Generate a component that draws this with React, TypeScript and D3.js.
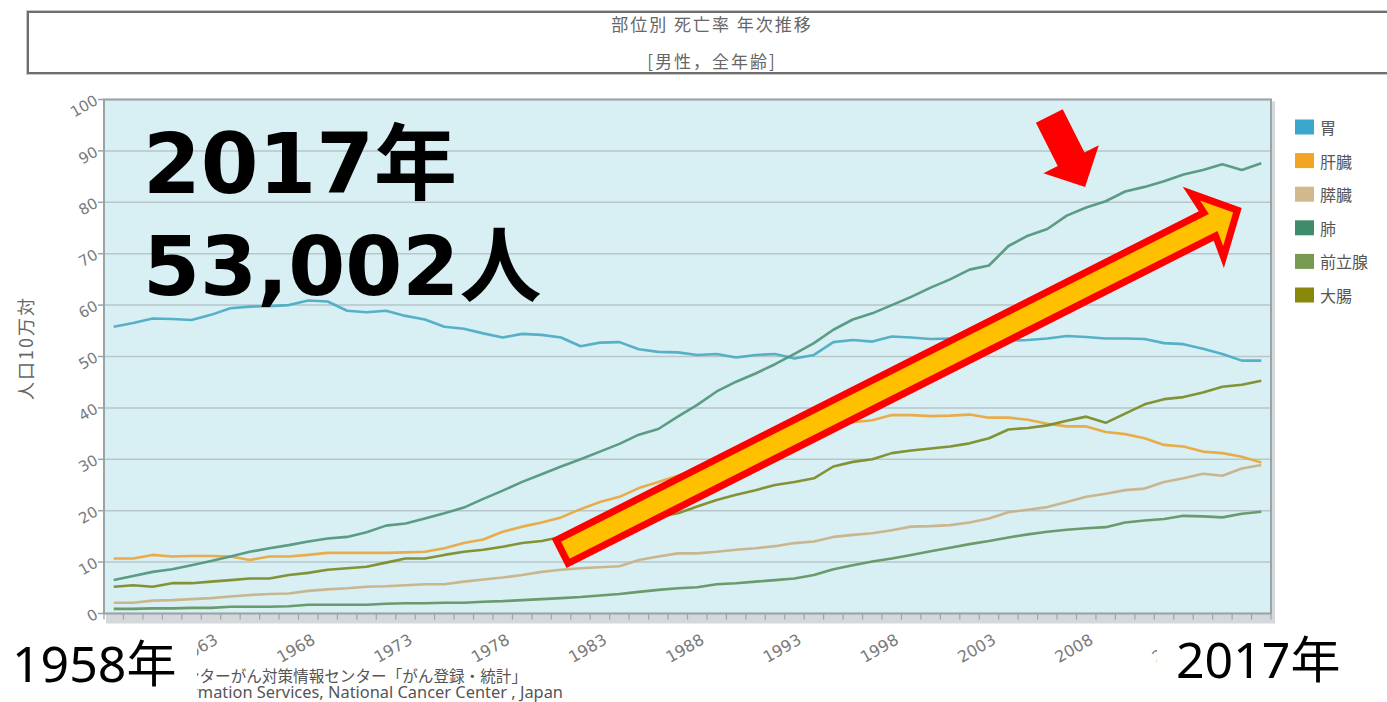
import React from 'react';
import * as d3 from 'd3';

const years = d3.range(1958, 2018);
const seriesNames = ['胃', '肝臓', '膵臓', '肺', '前立腺', '大腸'];

const stomach = [
  55.8, 56.5, 57.4, 57.3, 57.1, 58.1, 59.4, 59.7, 59.8, 60.0,
  60.9, 60.7, 58.9, 58.6, 58.9, 57.9, 57.2, 55.8, 55.4, 54.5,
  53.7, 54.4, 54.2, 53.7, 52.0, 52.7, 52.8, 51.4, 50.9, 50.8,
  50.3, 50.5, 49.8, 50.3, 50.5, 49.6, 50.3, 52.8, 53.2, 52.9,
  53.9, 53.7, 53.4, 53.5, 53.3, 53.0, 53.1, 53.2, 53.5, 54.0,
  53.8, 53.5, 53.5, 53.4, 52.6, 52.4, 51.5, 50.5, 49.2, 49.2,
];
const liver = [
  10.7, 10.7, 11.4, 11.1, 11.2, 11.2, 11.1, 10.4, 11.1, 11.1,
  11.4, 11.8, 11.8, 11.8, 11.8, 11.9, 12.0, 12.7, 13.7, 14.4,
  15.9, 16.9, 17.7, 18.7, 20.3, 21.7, 22.7, 24.4, 25.6, 26.8,
  28.0, 29.5, 30.8, 32.2, 33.5, 34.6, 35.6, 36.5, 37.2, 37.6,
  38.6, 38.6, 38.4, 38.5, 38.7, 38.1, 38.1, 37.7, 36.9, 36.4,
  36.4, 35.3, 34.9, 34.1, 32.8, 32.5, 31.5, 31.2, 30.5, 29.4,
];
const pancreas = [
  2.1, 2.1, 2.5, 2.6, 2.8, 3.0, 3.3, 3.6, 3.8, 3.9,
  4.4, 4.7, 4.9, 5.2, 5.3, 5.5, 5.7, 5.7, 6.2, 6.6,
  7.0, 7.5, 8.1, 8.5, 8.8, 9.0, 9.2, 10.4, 11.1, 11.7,
  11.7, 12.0, 12.4, 12.7, 13.1, 13.7, 14.0, 14.9, 15.3, 15.6,
  16.2, 16.9, 17.0, 17.2, 17.7, 18.5, 19.7, 20.2, 20.7, 21.7,
  22.7, 23.3, 24.0, 24.3, 25.6, 26.3, 27.2, 26.8, 28.2, 28.9,
];
const lung = [
  6.5, 7.3, 8.1, 8.6, 9.4, 10.2, 11.1, 12.0, 12.7, 13.3,
  14.0, 14.6, 14.9, 15.8, 17.1, 17.5, 18.5, 19.5, 20.6, 22.3,
  23.9, 25.6, 27.1, 28.6, 30.0, 31.5, 33.0, 34.8, 35.9, 38.3,
  40.6, 43.2, 45.1, 46.7, 48.5, 50.5, 52.6, 55.2, 57.2, 58.4,
  60.0, 61.6, 63.4, 65.0, 66.9, 67.7, 71.5, 73.5, 74.8, 77.4,
  79.0, 80.2, 82.1, 83.0, 84.1, 85.4, 86.3, 87.4, 86.3, 87.6,
];
const prostate = [
  0.9, 0.9, 1.0, 1.0, 1.1, 1.1, 1.3, 1.3, 1.3, 1.4,
  1.7, 1.7, 1.7, 1.7, 1.9, 2.0, 2.0, 2.1, 2.1, 2.3,
  2.4, 2.6, 2.8, 3.0, 3.2, 3.5, 3.8, 4.2, 4.6, 4.9,
  5.1, 5.7, 5.9, 6.2, 6.5, 6.8, 7.5, 8.6, 9.4, 10.1,
  10.7, 11.4, 12.1, 12.8, 13.5, 14.1, 14.8, 15.4, 15.9, 16.3,
  16.6, 16.8, 17.7, 18.1, 18.4, 19.0, 18.9, 18.7, 19.4, 19.8,
];
const colorectal = [
  5.2, 5.5, 5.2, 5.9, 5.9, 6.2, 6.5, 6.8, 6.8, 7.5,
  7.9, 8.5, 8.8, 9.1, 9.9, 10.7, 10.7, 11.4, 12.0, 12.4,
  13.0, 13.7, 14.1, 14.9, 15.6, 16.4, 17.2, 18.0, 18.8, 19.5,
  20.8, 22.1, 23.1, 24.0, 25.0, 25.6, 26.3, 28.6, 29.5, 30.0,
  31.2, 31.7, 32.1, 32.5, 33.1, 34.1, 35.8, 36.1, 36.6, 37.5,
  38.3, 37.1, 38.9, 40.7, 41.7, 42.1, 43.0, 44.1, 44.5, 45.3,
];

const seriesValues = [stomach, liver, pancreas, lung, prostate, colorectal];
const lineColors = ['#4aaac3', '#e9a63c', '#c8b184', '#4f957a', '#5f9460', '#7d8a25'];
const legendColors = ['#3aa8cc', '#f2a424', '#d0b98c', '#3f8c6c', '#789a50', '#8a880c'];

const yTicks = [0, 10, 20, 30, 40, 50, 60, 70, 80, 90, 100];
const xTickLabels = [1958, 1963, 1968, 1973, 1978, 1983, 1988, 1993, 1998, 2003, 2008, 2013];

const titleText = '部位別 死亡率 年次推移';
const subtitleText = '[男性，全年齢]';
const yAxisTitle = '人口10万対';
const sourceJa = '出典：国立がん研究センターがん対策情報センター「がん登録・統計」';
const sourceEn = 'Source: Center for Cancer Control and Information Services, National Cancer Center , Japan';
const bigLine1 = '2017年';
const bigLine2 = '53,002人';
const startLabel = '1958年';
const endLabel = '2017年';

// annotation anchors (data space)
const bigArrowTail = { year: 1980.9, value: 11.7 };
const bigArrowTip = { year: 2016.0, value: 78.9 };
const redArrowTail = { year: 2006.1, value: 96.8 };
const redArrowTip = { year: 2007.94, value: 83.0 };

const W = 1387;
const H = 702;
const plot = { left: 104, right: 1271, top: 99.5, bottom: 613.5 };

function arrowPath(
  tail: [number, number],
  tip: [number, number],
  shaftHalf: number,
  headBackU: number,
  barbU: number,
  headHalf: number,
  tipU: number,
  tailU: number
) {
  const dx = tip[0] - tail[0];
  const dy = tip[1] - tail[1];
  const len = Math.hypot(dx, dy);
  const d = [dx / len, dy / len];
  const n = [-d[1], d[0]];
  const pt = (u: number, w: number) => [tail[0] + u * d[0] + w * n[0], tail[1] + u * d[1] + w * n[1]];
  const pts = [
    pt(tailU, -shaftHalf),
    pt(headBackU, -shaftHalf),
    pt(barbU, -headHalf),
    pt(tipU, 0),
    pt(barbU, headHalf),
    pt(headBackU, shaftHalf),
    pt(tailU, shaftHalf),
  ];
  return 'M' + pts.map((p) => p[0].toFixed(1) + ',' + p[1].toFixed(1)).join('L') + 'Z';
}

export default function App() {
  const x = d3.scaleLinear().domain([1957.5, 2017.5]).range([plot.left, plot.right]);
  const y = d3.scaleLinear().domain([0, 100]).range([plot.bottom, plot.top]);
  const line = d3
    .line<number>()
    .x((_, i) => x(years[i]))
    .y((v) => y(v));

  const tickBounds = d3.range(1957.5, 2018, 1);

  const bTail: [number, number] = [x(bigArrowTail.year), y(bigArrowTail.value)];
  const bTip: [number, number] = [x(bigArrowTip.year), y(bigArrowTip.value)];
  const bLen = Math.hypot(bTip[0] - bTail[0], bTip[1] - bTail[1]);
  const bigArrow = arrowPath(bTail, bTip, 13, bLen - 36, bLen - 38.5, 35.5, bLen - 5, 3.5);

  const rTail: [number, number] = [x(redArrowTail.year), y(redArrowTail.value)];
  const rTip: [number, number] = [x(redArrowTip.year), y(redArrowTip.value)];
  const rLen = Math.hypot(rTip[0] - rTail[0], rTip[1] - rTail[1]);
  const redArrow = arrowPath(rTail, rTip, 15, rLen - 31, rLen - 31, 31, rLen, 0);

  const cjk = '"Noto Sans CJK JP", "Noto Sans", sans-serif';
  const tickFont = '"DejaVu Sans", "Noto Sans CJK JP", sans-serif';

  return (
    <svg
      width={W}
      height={H}
      viewBox={`0 0 ${W} ${H}`}
      style={{ position: 'absolute', left: 0, top: 0, background: '#ffffff' }}
    >
      <defs>
        <clipPath id="midClip">
          <rect x={197} y={620} width={960} height={82} />
        </clipPath>
      </defs>
      <rect x={0} y={0} width={W} height={H} fill="#ffffff" />

      {/* title box */}
      <rect x={28} y={12} width={1380} height={61} fill="#ffffff" stroke="#c8c8c8" strokeWidth={4} />
      <rect x={28} y={12} width={1380} height={61} fill="#ffffff" stroke="#6e6e6e" strokeWidth={2} />
      <text x={712} y={23} textAnchor="middle" dominantBaseline="central" fontFamily={cjk} fontSize={17} letterSpacing={2} fill="#666666">
        {titleText}
      </text>
      <text x={712} y={60} textAnchor="middle" dominantBaseline="central" fontFamily={cjk} fontSize={17} letterSpacing={2} fill="#666666">
        {subtitleText}
      </text>

      {/* plot frame */}
      <rect x={plot.left + 2} y={plot.top + 2} width={plot.right - plot.left + 2} height={plot.bottom - plot.top + 8} fill="#d4d8da" />
      <rect x={plot.left} y={plot.top} width={plot.right - plot.left} height={plot.bottom - plot.top} fill="#d8f0f4" />

      {/* grid */}
      {yTicks.map((t) => (
        <line key={'g' + t} x1={plot.left} x2={plot.right} y1={y(t)} y2={y(t)} stroke="#b7c6ca" strokeWidth={1.5} />
      ))}

      {/* series */}
      {seriesValues.map((vals, i) => (
        <path
          key={seriesNames[i]}
          d={line(vals) || ''}
          fill="none"
          stroke={lineColors[i]}
          strokeWidth={2.6}
          strokeOpacity={0.92}
          strokeLinejoin="round"
        />
      ))}

      <rect x={plot.left} y={plot.top} width={plot.right - plot.left} height={plot.bottom - plot.top} fill="none" stroke="#9aa4a6" strokeWidth={2} />

      {/* y axis ticks & labels */}
      {yTicks.map((t) => (
        <g key={'y' + t}>
          <line x1={plot.left - 6} x2={plot.left} y1={y(t)} y2={y(t)} stroke="#9aa4a6" strokeWidth={1.5} />
          <text
            x={99}
            y={y(t) + 4}
            textAnchor="end"
            transform={`rotate(-30, 99, ${y(t) + 4})`}
            fontFamily={tickFont}
            fontSize={15}
            fill="#7a7a7a"
          >
            {t}
          </text>
        </g>
      ))}

      {/* x axis ticks */}
      {tickBounds.map((b) => (
        <line key={'xt' + b} x1={x(b)} x2={x(b)} y1={plot.bottom} y2={plot.bottom + 6} stroke="#9aa4a6" strokeWidth={1.2} />
      ))}
      <g clipPath="url(#midClip)">
        {xTickLabels.map((yr) => (
          <text
            key={'xl' + yr}
            x={x(yr) + 8}
            y={643}
            textAnchor="end"
            transform={`rotate(-30, ${x(yr) + 8}, 643)`}
            fontFamily={tickFont}
            fontSize={16}
            fill="#7a7a7a"
          >
            {yr}
          </text>
        ))}
        {/* source */}
        <text x={527} y={682} textAnchor="end" fontFamily={cjk} fontSize={15.6} fill="#555555">
          {sourceJa}
        </text>
        <text x={563} y={698} textAnchor="end" fontFamily={'"Noto Sans", sans-serif'} fontSize={16.4} fill="#555555">
          {sourceEn}
        </text>
      </g>

      {/* y axis title */}
      <text
        x={25}
        y={348}
        textAnchor="middle"
        dominantBaseline="central"
        transform="rotate(-90, 25, 348)"
        fontFamily={cjk}
        fontSize={18}
        letterSpacing={2}
        fill="#666666"
      >
        {yAxisTitle}
      </text>

      {/* legend */}
      {seriesNames.map((name, i) => {
        const cy = 127 + i * 33.6;
        return (
          <g key={'lg' + name}>
            <rect x={1295} y={cy - 7.5} width={19} height={15} fill={legendColors[i]} />
            <text x={1320} y={cy} dominantBaseline="central" fontFamily={cjk} fontSize={16} fill="#555555">
              {name}
            </text>
          </g>
        );
      })}

      {/* annotation arrows */}
      <path d={bigArrow} fill="#ffc000" stroke="#ff0000" strokeWidth={7} strokeLinejoin="miter" strokeMiterlimit={10} />
      <path d={redArrow} fill="#ff0000" />

      {/* big annotation text */}
      <text x={143} y={193} fontFamily={'"DejaVu Sans", "Noto Sans CJK JP", sans-serif'} fontWeight={700} fontSize={83} fill="#000000">
        {bigLine1}
      </text>
      <text x={143} y={295} fontFamily={'"DejaVu Sans", "Noto Sans CJK JP", sans-serif'} fontWeight={700} fontSize={82} fill="#000000">
        {bigLine2}
      </text>

      {/* period labels */}
      <text x={12} y={682} fontFamily={'"Noto Sans", "Noto Sans CJK JP", sans-serif'} fontSize={50} fill="#000000">
        {startLabel}
      </text>
      <text x={1176} y={678} fontFamily={'"Noto Sans", "Noto Sans CJK JP", sans-serif'} fontSize={50} fill="#000000">
        {endLabel}
      </text>
    </svg>
  );
}
